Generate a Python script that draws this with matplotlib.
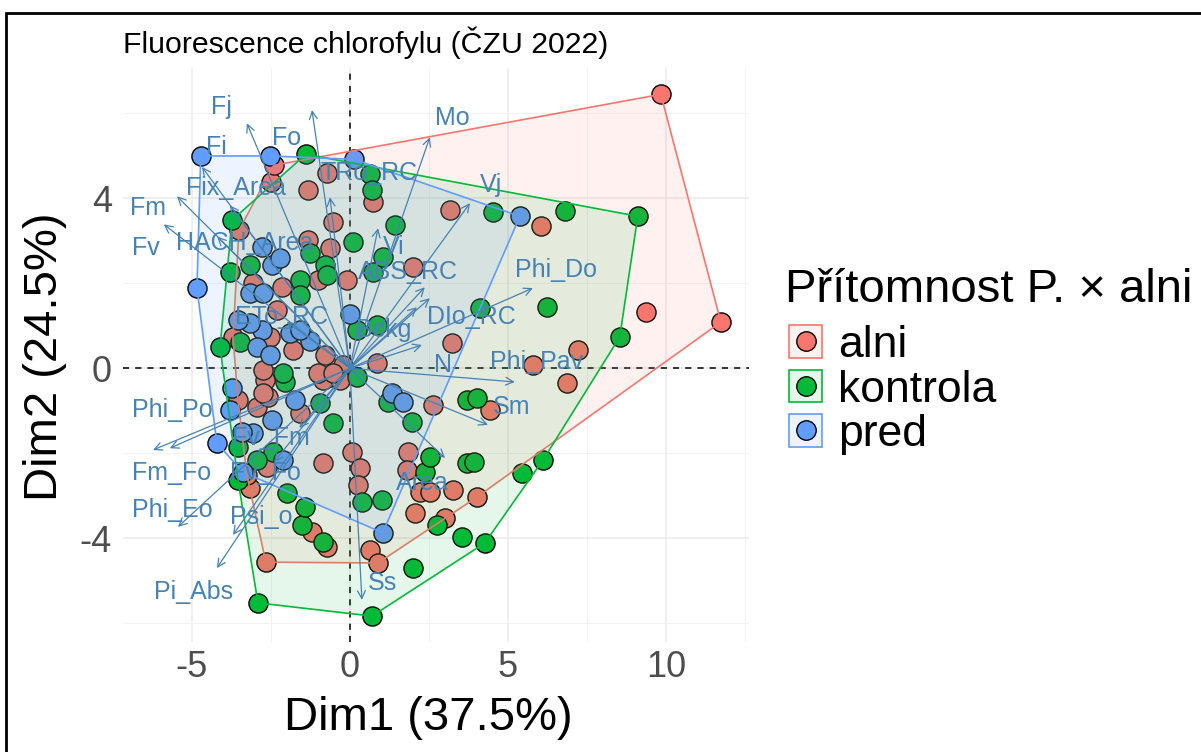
import numpy as np
import matplotlib
matplotlib.use("Agg")
import matplotlib.pyplot as plt
from matplotlib.patches import Patch, Rectangle
from matplotlib.lines import Line2D

plt.rcParams['font.family'] = ['Liberation Sans', 'DejaVu Sans']
plt.rcParams['axes.unicode_minus'] = False

# PCA scores of individuals (Dim1, Dim2) per group
alni_x = [9.84, 11.74, 9.37, 7.22, 6.87, 6.04, 3.16, 5.79, 3.23, 1.99, 4.43, 2.63, 0.85,
          -0.22, -0.63, 1.84, 1.80, 2.22, 2.53, 3.26, 4.02, 2.06, 3.01, 0.06, 0.32, 0.25,
          0.63, 0.89, -2.66, -1.20, -0.73, -0.85, -3.16, -3.26, -2.63, -2.94, -2.59, -3.54,
          -2.69, -2.75, -1.58, -0.85, -0.32, -1.01, -0.54, -2.75, -0.79, -1.80, -2.53, -3.70,
          -2.31, -2.15, -3.07, -1.01, -0.09, -0.63, -1.33, -0.54, -3.51, -2.50, -1.33, -0.73,
          -2.41, 0.73]
alni_y = [6.45, 1.09, 1.32, 0.43, -0.35, 3.35, 3.72, 0.08, 0.60, 2.38, -0.98, -0.86, 0.12,
          0.08, -0.20, -1.97, -2.39, -2.91, -2.91, -2.86, -3.03, -3.41, -3.51, -1.97, -2.35,
          -2.75, -4.27, -4.58, -4.56, -3.85, -4.20, -2.23, -2.82, -2.51, -2.32, -0.91, -0.68,
          -0.75, -0.28, -0.58, -1.05, -0.28, -0.28, -0.11, -0.11, -0.04, 0.31, 0.43, 0.74,
          0.74, 1.37, 1.91, 2.01, 2.08, 2.08, 2.83, 3.02, 3.44, 3.25, 4.38, 4.20, 4.60, 4.78,
          3.91]

kontrola_x = [9.11, 6.80, 4.53, 8.54, 6.23, 4.11, 6.11, 5.44, 4.27, 3.54, 2.75, 1.99, 0.70,
              -2.91, -1.52, -0.85, -1.42, -1.99, 0.38, 1.01, 2.37, 2.53, 3.70, 3.92, 3.70,
              4.02, 1.96, 1.20, 0.22, -0.54, -0.95, -2.06, -2.44, -2.94, -3.54, -3.54, -4.11,
              -3.48, -2.12, 0.22, 0.85, 0.73, 1.04, 0.09, 1.42, 0.63, 0.70, -1.39, -3.73,
              -3.80, -3.16, -1.58, -1.58, -1.27, -0.79, -0.73]
kontrola_y = [3.58, 3.70, 3.68, 0.74, 1.44, 1.42, -2.16, -2.46, -4.11, -3.97, -3.69, -4.70,
              -5.83, -5.52, -3.69, -4.09, -3.26, -2.93, -3.14, -3.10, -2.44, -2.09, -2.23,
              -2.20, -0.75, -0.70, -1.26, -0.79, -0.20, -1.29, -0.82, -0.32, -1.97, -2.16,
              -1.85, -2.63, 0.50, 0.62, -0.11, 0.90, 1.02, 2.27, 2.62, 2.97, 3.37, 4.57, 4.20,
              5.04, 3.49, 2.27, 2.43, 2.08, 1.72, 2.71, 2.43, 2.20]

pred_x = [-4.72, -2.53, 0.13, 5.38, -4.84, -2.78, -2.47, -2.22, -3.16, -2.75, -2.78, -1.90,
          -2.94, -2.53, -1.27, -1.58, 0.00, -3.80, -4.21, -3.07, -3.42, -2.47, -1.74, -2.12,
          -3.39, 1.33, 1.68, 1.04, -3.73, -3.16, -3.54]
pred_y = [5.00, 5.00, 4.92, 3.58, 1.89, 2.85, 2.43, 2.60, 1.77, 1.77, 0.90, 0.83, 0.50,
          0.31, 0.64, 0.90, 1.28, -0.98, -1.76, -1.53, -1.50, -1.22, -0.75, -2.16, -2.44,
          -0.58, -0.79, -3.87, -0.46, 1.07, 1.14]

# variable loadings (arrow tips) and where their labels sit
var_names = ['Fj', 'Fo', 'Fi', 'Fm', 'Fv', 'Fix_Area', 'HACH_Area', 'TRo_RC', 'Mo', 'Vj',
             'Vi', 'ABS_RC', 'Phi_Do', 'DIo_RC', 'Bckg', 'N', 'Phi_Pav', 'Sm', 'Area', 'Ss',
             'Pi_Abs', 'Psi_o', 'Phi_Eo', 'Fm_Fo', 'Phi_Po', 'Fv_Fm', 'Fv_Fo', 'ETo_RC']
var_x = [-3.26, -1.20, -4.68, -5.47, -5.89, -3.80, -4.20, -0.63, 2.53, 3.80,
         0.89, 2.37, 5.79, 2.53, 2.12, 2.28, 5.22, 4.37, 3.01, 0.38,
         -4.21, -3.70, -5.44, -6.23, -5.70, -1.60, -2.40, -2.00]
var_y = [5.77, 6.08, 4.74, 4.05, 3.39, 3.84, 3.10, 4.03, 5.44, 3.89,
         3.30, 1.91, 1.89, 1.65, 1.44, 0.55, -0.32, -1.33, -2.11, -5.45,
         -4.70, -3.92, -3.73, -1.92, -1.88, -1.40, -2.20, 1.10]
lab_x = [-4.05, -1.99, -4.21, -6.39, -6.46, -3.61, -3.32, 0.60, 3.23, 4.46,
         1.40, 1.84, 6.52, 3.86, 1.08, 2.94, 5.92, 5.13, 2.28, 1.04,
         -4.94, -2.80, -5.63, -5.63, -5.63, -2.50, -2.66, -2.15]
lab_y = [6.15, 5.42, 5.21, 3.77, 2.83, 4.24, 2.95, 4.60, 5.89, 4.31,
         2.85, 2.27, 2.31, 1.21, 0.90, 0.07, 0.14, -0.91, -2.70, -5.05,
         -5.26, -3.50, -3.33, -2.47, -0.98, -1.64, -2.46, 1.21]

groups = ['alni', 'kontrola', 'pred']
colors = ['#F8766D', '#00BA38', '#619CFF']
arrow_col = '#4682B4'


def convex_hull(px, py):
    pts = sorted(set(zip(px, py)))

    def cross(o, a, b):
        return (a[0] - o[0]) * (b[1] - o[1]) - (a[1] - o[1]) * (b[0] - o[0])

    lower = []
    for p in pts:
        while len(lower) >= 2 and cross(lower[-2], lower[-1], p) <= 0:
            lower.pop()
        lower.append(p)
    upper = []
    for p in reversed(pts):
        while len(upper) >= 2 and cross(upper[-2], upper[-1], p) <= 0:
            upper.pop()
        upper.append(p)
    return np.array(lower[:-1] + upper[:-1])


fig = plt.figure(figsize=(12.01, 7.52), dpi=100)
ax = fig.add_axes([123 / 1201, 1 - 642 / 752, 626 / 1201, 574 / 752])

ax.set_xticks([-5, 0, 5, 10])
ax.set_yticks([-4, 0, 4])
ax.set_xticks([-2.5, 2.5, 7.5, 12.5], minor=True)
ax.set_yticks([-6, -2, 2, 6], minor=True)
# limits after ticks, set_ticks would widen them otherwise
ax.set_xlim(-7.18, 12.63)
ax.set_ylim(-6.44, 7.07)
ax.grid(which='major', color='#EBEBEB', lw=1.1)
ax.grid(which='minor', color='#F2F2F2', lw=0.7)
ax.set_axisbelow(True)
for s in ax.spines.values():
    s.set_visible(False)
ax.tick_params(which='both', length=0, labelsize=26, labelcolor='#4D4D4D', pad=6)
ax.tick_params(axis='y', pad=8)

ax.axhline(0, color='black', ls=(0, (4, 4)), lw=1.1, zorder=2)
ax.axvline(0, color='black', ls=(0, (4, 4)), lw=1.1, zorder=2)

all_x = [alni_x, kontrola_x, pred_x]
all_y = [alni_y, kontrola_y, pred_y]

for gx, gy, c in zip(all_x, all_y, colors):
    ax.scatter(gx, gy, s=190, color=c, edgecolor='black', lw=1.0, zorder=3)

for gx, gy, c in zip(all_x, all_y, colors):
    hull = convex_hull(gx, gy)
    ax.fill(hull[:, 0], hull[:, 1], color=c, alpha=0.1, lw=0, zorder=4)
    ax.fill(hull[:, 0], hull[:, 1], facecolor='none', edgecolor=c, lw=1.2, zorder=4)

for vx, vy in zip(var_x, var_y):
    ax.annotate('', xy=(vx, vy), xytext=(0, 0),
                arrowprops=dict(arrowstyle='->', color=arrow_col, lw=0.9,
                                mutation_scale=14, shrinkA=0, shrinkB=0),
                zorder=5)
for name, lx, ly in zip(var_names, lab_x, lab_y):
    ax.text(lx, ly, name, color=arrow_col, fontsize=18, ha='center', va='center', zorder=6)

ax.set_xlabel('Dim1 (37.5%)', fontsize=34)
ax.xaxis.set_label_coords((428 - 123) / 626, -(718 - 642) / 574)
ax.xaxis.label.set_va('center')
ax.set_ylabel('Dim2 (24.5%)', fontsize=34)
ax.yaxis.set_label_coords(-(123 - 45) / 626, (642 - 357) / 574)
ax.yaxis.label.set_va('center')
ax.set_title('Fluorescence chlorofylu (ČZU 2022)', fontsize=21.8, loc='left', pad=11)

handles = []
for c in colors:
    box = Patch(facecolor=matplotlib.colors.to_rgba(c, 0.1), edgecolor=c, lw=1.2)
    dot = Line2D([], [], ls='', marker='o', ms=14, markerfacecolor=c, markeredgecolor='black')
    handles.append((box, dot))
fig.text(785 / 1201, 1 - 290 / 752, 'Přítomnost P. × alni', fontsize=34, ha='left', va='center')
fig.legend(handles, groups, loc='upper left',
           bbox_to_anchor=(789 / 1201, 1 - 325 / 752), frameon=False, fontsize=32,
           handlelength=0.75, handleheight=0.75, labelspacing=0.08,
           handletextpad=0.35, borderpad=0, borderaxespad=0)

fig.patches.append(Rectangle((6 / 1201, -0.05), 1.2, 1 - 13 / 752 + 0.05, transform=fig.transFigure,
                             fill=False, edgecolor='black', lw=2))

fig.savefig('out.png', dpi=100)
